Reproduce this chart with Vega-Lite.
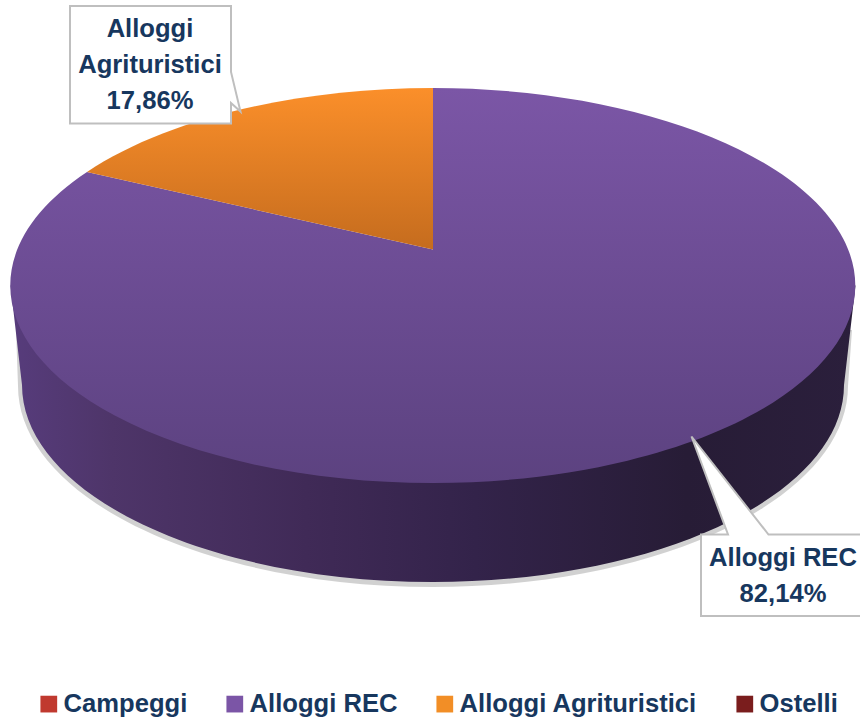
{
"$schema":"https://vega.github.io/schema/vega-lite/v6.json",
"width":860,"height":720,"padding":0,"autosize":{"type":"none"},"background":"white",
"config":{"view":{"stroke":null}},
"data":{"values":[
{"categoria":"Campeggi","quota":0,"etichetta":""},
{"categoria":"Alloggi REC","quota":82.14,"etichetta":"Alloggi REC\n82,14%"},
{"categoria":"Alloggi Agrituristici","quota":17.86,"etichetta":"Alloggi\nAgrituristici\n17,86%"},
{"categoria":"Ostelli","quota":0,"etichetta":""}
]},
"layer":[
{"mark":{"type":"point","shape":"square","filled":true,"size":0},
 "encoding":{"color":{"field":"categoria","type":"nominal",
  "scale":{"domain":["Campeggi","Alloggi REC","Alloggi Agrituristici","Ostelli"],"range":["#c0392f","#7b55a6","#f28e26","#7a1d1d"]},
  "sort":null,
  "legend":{"title":null,"orient":"none","legendX":36,"legendY":691,"direction":"horizontal","columns":4,"columnPadding":34,"symbolType":"square","symbolSize":280,"symbolOpacity":1,"symbolStrokeWidth":0,"labelFont":"Liberation Sans","labelFontWeight":"bold","labelFontSize":25.6,"labelColor":"#17375e","labelOffset":2,"labelLimit":400}}}},
{"transform":[{"filter":"datum.categoria==='Alloggi REC'"}],
 "mark":{"type":"point","filled":true,"size":4,"fill":"#000000","opacity":0.18,"shape":"M-414,-30 L-412,26 A415,201 0 0 0 418,26 L422,-30 Z"}},
{"transform":[{"filter":"datum.categoria==='Alloggi REC'"}],
 "mark":{"type":"point","filled":true,"size":4,"opacity":1,"shape":"M-419.5,-74.5 L-408,25 A411,197 0 0 0 414,25 L425.5,-74.5 Z",
 "fill":{"gradient":"linear","x1":0,"y1":0,"x2":1,"y2":0,"stops":[{"offset":0,"color":"#573c7c"},{"offset":0.12,"color":"#4e3569"},{"offset":0.35,"color":"#402a57"},{"offset":0.55,"color":"#33234a"},{"offset":0.8,"color":"#271c36"},{"offset":1,"color":"#2b1f3c"}]}}},
{"transform":[{"filter":"datum.categoria==='Alloggi REC'"}],
 "mark":{"type":"point","filled":true,"size":4,"opacity":1,"shape":"M3,-110.5 L-343,-188 A422.5,197.5 0 1 0 3,-272 Z",
 "fill":{"gradient":"linear","x1":0,"y1":0,"x2":0,"y2":1,"stops":[{"offset":0,"color":"#7b56a6"},{"offset":1,"color":"#5c4280"}]}}},
{"transform":[{"filter":"datum.categoria==='Alloggi Agrituristici'"}],
 "mark":{"type":"point","filled":true,"size":4,"opacity":1,"shape":"M3,-110.5 L3,-272 A422.5,197.5 0 0 0 -343,-188 Z",
 "fill":{"gradient":"linear","x1":0,"y1":0,"x2":0,"y2":1,"stops":[{"offset":0,"color":"#fb8f2a"},{"offset":1,"color":"#c56c1e"}]}}},
{"transform":[{"filter":"datum.categoria==='Alloggi Agrituristici'"}],
 "mark":{"type":"point","filled":true,"size":4,"opacity":1,"fill":"#ffffff","stroke":"#bfbfbf","strokeWidth":2,"shape":"M-360,-354 L-199,-354 L-199,-288 L-189.5,-248.5 L-199,-257 L-199,-236.5 L-360,-236.5 Z"}},
{"transform":[{"filter":"datum.categoria==='Alloggi REC'"}],
 "mark":{"type":"point","filled":true,"size":4,"opacity":1,"fill":"#ffffff","stroke":"#bfbfbf","strokeWidth":2,"shape":"M271,174.5 L298,174.5 L261.5,76.5 L338.5,174.5 L431,174.5 L431,256 L271,256 Z"}},
{"transform":[{"filter":"datum.categoria==='Alloggi Agrituristici'"}],
 "mark":{"type":"text","font":"Liberation Sans","fontWeight":"bold","fontSize":25.6,"lineHeight":36,"lineBreak":"\n","color":"#17375e","align":"center","baseline":"middle","dx":-280,"dy":-331},
 "encoding":{"text":{"field":"etichetta"}}},
{"transform":[{"filter":"datum.categoria==='Alloggi REC'"}],
 "mark":{"type":"text","font":"Liberation Sans","fontWeight":"bold","fontSize":25.6,"lineHeight":36,"lineBreak":"\n","color":"#17375e","align":"center","baseline":"middle","dx":353,"dy":198},
 "encoding":{"text":{"field":"etichetta"}}}
]
}
